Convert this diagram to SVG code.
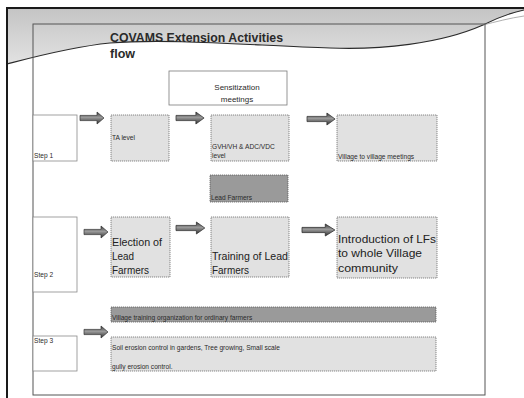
<svg xmlns="http://www.w3.org/2000/svg" width="524" height="398" viewBox="0 0 524 398">
  <style>
    text { font-family: "Liberation Sans", Arial, sans-serif; fill: #2a2a2a; }
    .step { fill: #ffffff; stroke: #8a8a8a; stroke-width: 0.8; }
    .light { fill: #e1e1e1; stroke: #6a6a6a; stroke-width: 0.8; stroke-dasharray: 1.2 0.8; }
    .dark { fill: #9a9a9a; stroke: #5a5a5a; stroke-width: 0.8; stroke-dasharray: 1.2 0.8; }
    .plain { fill: #ffffff; stroke: #7a7a7a; stroke-width: 0.8; }
    .s7 { font-size: 6.6px; }
    .s8 { font-size: 8px; }
    .big { font-size: 11.5px; fill: #222222; }
    .arrow { fill: url(#arrowFill); stroke: #333333; stroke-width: 0.7; }
  </style>
  <defs>
    <linearGradient id="arrowFill" x1="0" y1="0" x2="0" y2="1">
      <stop offset="0" stop-color="#3a3a3a"/>
      <stop offset="0.45" stop-color="#9a9a9a"/>
      <stop offset="1" stop-color="#2e2e2e"/>
    </linearGradient>
    <linearGradient id="haze" x1="0" y1="0" x2="0" y2="1">
      <stop offset="0" stop-color="#c4c4c4"/>
      <stop offset="1" stop-color="#e2e2e2"/>
    </linearGradient>
    <!-- block arrow, 24 wide, centred on y=0 -->
    <path id="blockArrow" d="M0,-2.6 H17 V-6 L24,0 L17,6 V2.6 H0 Z"/>
  </defs>

  <rect width="524" height="398" fill="#ffffff"/>

  <!-- header haze and swoosh -->
  <path d="M7,8 H524 V10 C500,16 490,22 483,25 C440,44 380,50 330,48 C260,46 170,38 110,43 C70,47 30,58 7,64 Z" fill="url(#haze)"/>
  <path d="M7,64 C30,58 70,47 110,43 C170,38 260,46 330,48 C380,50 440,44 483,25 C495,19 510,13 524,10" fill="none" stroke="#2a2a2a" stroke-width="1.1"/>
  <path d="M483,25 C495,22 510,18 524,16" fill="none" stroke="#9a9a9a" stroke-width="0.8"/>

  <!-- slide frame -->
  <rect x="33" y="24" width="452" height="371" fill="none" stroke="#555555" stroke-width="1"/>
  <line x1="7" y1="8" x2="524" y2="8" stroke="#1a1a1a" stroke-width="2"/>
  <line x1="7" y1="7" x2="7" y2="398" stroke="#1a1a1a" stroke-width="2"/>

  <!-- title -->
  <g id="title">
    <text x="110" y="42" font-size="12.5" font-weight="bold" textLength="173" lengthAdjust="spacingAndGlyphs">COVAMS Extension Activities</text>
    <text x="110" y="58" font-size="12.5" font-weight="bold">flow</text>
  </g>

  <g id="sensitization">
    <rect class="plain" x="169" y="71" width="118" height="34"/>
    <text class="s8" x="237" y="90" text-anchor="middle">Sensitization</text>
    <text class="s8" x="237" y="102" text-anchor="middle">meetings</text>
  </g>

  <!-- step 1 row -->
  <g id="step1">
    <rect class="step" x="33" y="115" width="44" height="46"/>
    <text class="s7" x="34" y="158">Step 1</text>
  </g>
  <g id="ta-level">
    <rect class="light" x="111" y="115" width="58" height="46"/>
    <text class="s7" x="112" y="140">TA level</text>
  </g>
  <g id="gvh-level">
    <rect class="light" x="211" y="115" width="78" height="46"/>
    <text class="s7" x="212" y="149">GVH/VH &amp; ADC/VDC</text>
    <text class="s7" x="212" y="158">level</text>
  </g>
  <g id="village-meetings">
    <rect class="light" x="337" y="115" width="100" height="46"/>
    <text class="s7" x="338" y="159">Village to village meetings</text>
  </g>
  <g id="lead-farmers">
    <rect class="dark" x="210" y="175" width="78" height="27"/>
    <text class="s7" x="211" y="200">Lead Farmers</text>
  </g>

  <!-- step 2 row -->
  <g id="step2">
    <rect class="step" x="33" y="217" width="44" height="75"/>
    <text class="s7" x="34" y="277">Step 2</text>
  </g>
  <g id="election">
    <rect class="light" x="111" y="217" width="59" height="60"/>
    <text class="big" x="112" y="246" textLength="50" lengthAdjust="spacingAndGlyphs">Election of</text>
    <text class="big" x="112" y="260" textLength="22" lengthAdjust="spacingAndGlyphs">Lead</text>
    <text class="big" x="112" y="274" textLength="37" lengthAdjust="spacingAndGlyphs">Farmers</text>
  </g>
  <g id="training">
    <rect class="light" x="211" y="217" width="78" height="60"/>
    <text class="big" x="212" y="260" textLength="76" lengthAdjust="spacingAndGlyphs">Training of Lead</text>
    <text class="big" x="212" y="274" textLength="37" lengthAdjust="spacingAndGlyphs">Farmers</text>
  </g>
  <g id="introduction">
    <rect class="light" x="337" y="217" width="100" height="61"/>
    <text class="big" x="338" y="243" textLength="98" lengthAdjust="spacingAndGlyphs">Introduction of LFs</text>
    <text class="big" x="338" y="257" textLength="84" lengthAdjust="spacingAndGlyphs">to whole Village</text>
    <text class="big" x="338" y="272" textLength="60" lengthAdjust="spacingAndGlyphs">community</text>
  </g>

  <!-- step 3 row -->
  <g id="step3">
    <rect class="step" x="33" y="336" width="44" height="35"/>
    <text class="s7" x="34" y="343">Step 3</text>
  </g>
  <g id="village-training">
    <rect class="dark" x="111" y="307" width="325" height="15" fill="#8c8c8c"/>
    <text class="s7" x="112" y="320">Village training organization for ordinary farmers</text>
  </g>
  <g id="soil-erosion">
    <rect class="light" x="111" y="337" width="325" height="34"/>
    <text class="s7" x="112" y="350">Soil erosion control in gardens, Tree growing, Small scale</text>
    <text class="s7" x="112" y="369">gully erosion control.</text>
  </g>

  <!-- connectors -->
  <g id="connectors">
    <use href="#blockArrow" class="arrow" transform="translate(80,118)"/>
    <use href="#blockArrow" class="arrow" transform="translate(176,118) scale(1.17,1)"/>
    <use href="#blockArrow" class="arrow" transform="translate(307,119) scale(1.17,1)"/>
    <use href="#blockArrow" class="arrow" transform="translate(84,232)"/>
    <use href="#blockArrow" class="arrow" transform="translate(176,228) scale(1.2,1)"/>
    <use href="#blockArrow" class="arrow" transform="translate(302,230) scale(1.37,1)"/>
    <use href="#blockArrow" class="arrow" transform="translate(84,332)"/>
  </g>
</svg>
